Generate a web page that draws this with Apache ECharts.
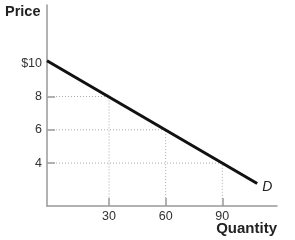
<!DOCTYPE html>
<html>
<head>
<meta charset="utf-8">
<script src="https://cdn.jsdelivr.net/npm/echarts@6/dist/echarts.min.js"></script>
<style>
  html, body { margin: 0; padding: 0; background: #fff; }
  #main { width: 295px; height: 240px; }
</style>
</head>
<body>
<div id="main"></div>
<script>
// demand curve D (starts right on the price axis)
var demandLine = [[-2.9, 10.15], [108.5, 2.77]];
// points read on the curve, with dotted guides to both axes
var guidePoints = [[30, 8], [60, 6], [90, 4]];
var xTicks = [30, 60, 90];
var yTicks = [4, 6, 8, 10];
var yTickLabels = { 10: '$10', 8: '8', 6: '6', 4: '4' };

var xMin = -2.9, xMax = 119, yMin = 1.42, yMax = 13.5;

var chart = echarts.init(document.getElementById('main'));

var guideSeries = guidePoints.map(function (p) {
  return {
    type: 'line',
    data: [[xMin, p[1]], [p[0], p[1]], [p[0], yMin]],
    symbol: 'none',
    silent: true,
    lineStyle: { color: '#aaa', width: 1, type: [1, 2] },
    z: 1
  };
});

chart.setOption({
  animation: false,
  grid: { left: 47, top: 5, right: 18, bottom: 34, outerBoundsMode: 'none' },
  xAxis: {
    type: 'value',
    min: xMin,
    max: xMax,
    splitLine: { show: false },
    axisLine: { onZero: false, lineStyle: { color: '#999', width: 1.5 } },
    axisTick: { inside: true, length: 8, customValues: xTicks, lineStyle: { color: '#999', width: 1.5 } },
    axisLabel: { customValues: xTicks, color: '#333', fontSize: 12.5, fontFamily: 'Liberation Sans', margin: 4 }
  },
  yAxis: {
    type: 'value',
    min: yMin,
    max: yMax,
    splitLine: { show: false },
    axisLine: { onZero: false, lineStyle: { color: '#999', width: 1.5 } },
    axisTick: { inside: true, length: 8, customValues: [4, 6, 8], lineStyle: { color: '#999', width: 1.5 } },
    axisLabel: {
      customValues: yTicks,
      color: '#333', fontSize: 12.5, fontFamily: 'Liberation Sans', margin: 5,
      formatter: function (v) { return yTickLabels[v]; }
    }
  },
  graphic: [
    { type: 'text', left: 5, top: 4, style: { text: 'Price', font: 'bold 14.5px Liberation Sans', fill: '#222' } },
    { type: 'text', right: 18, top: 221, style: { text: 'Quantity', font: 'bold 15px Liberation Sans', fill: '#222' } }
  ],
  series: guideSeries.concat([{
    type: 'line',
    data: demandLine,
    symbol: 'none',
    lineStyle: { color: '#111', width: 3 },
    endLabel: {
      show: true,
      formatter: 'D',
      fontStyle: 'italic',
      fontSize: 14,
      fontFamily: 'Liberation Sans',
      color: '#222',
      offset: [-3, 4]
    },
    z: 3
  }])
});
</script>
</body>
</html>
